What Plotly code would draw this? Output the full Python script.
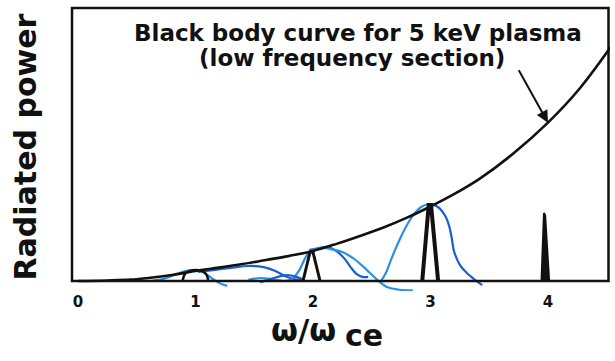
import plotly.graph_objects as go

# ---- data (power in arbitrary units, frame top = 100) ----
bb_w = [0.0, 0.25, 0.45, 0.6, 0.8, 1.0, 1.2, 1.4, 1.6, 1.8, 2.0, 2.2, 2.4, 2.6, 2.8, 3.0, 3.2, 3.42, 3.7, 4.0, 4.27, 4.6]
bb_p = [0, 0.2, 0.5, 1.1, 2.2, 3.7, 4.9, 6.2, 7.7, 9.2, 11.0, 13.6, 16.5, 19.6, 23.2, 27.3, 31.8, 37.5, 46.5, 58.0, 70.5, 89.7]

peak1_w = [0.89, 0.91, 0.95, 1.05, 1.09, 1.11]
peak1_p = [0, 2.6, 3.7, 3.7, 2.6, 0]
peak2_w = [1.915, 1.975, 2.0, 2.06]
peak2_p = [0, 10.6, 10.6, 0]
peak3_w = [2.93, 2.985, 3.005, 3.065]
peak3_p = [0, 27.8, 27.8, 0]
peak4_w = [3.945, 3.958, 3.966, 3.976, 3.99, 4.01]
peak4_p = [0, 15, 24.9, 24.0, 15, 0]

b1_w = [0.62, 0.72, 0.82, 0.9, 0.97, 1.04, 1.1, 1.16, 1.22, 1.27]
b1_p = [0, 0.7, 2.2, 3.5, 4.0, 3.8, 2.2, 0.4, -1.1, -1.8]
b2_w = [1.02, 1.15, 1.3, 1.45, 1.58, 1.68, 1.76, 1.84, 1.9]
b2_p = [3.3, 4.0, 4.8, 5.5, 5.1, 3.7, 1.8, 0.7, 0.4]
b3_w = [1.45, 1.55, 1.65, 1.75, 1.82, 1.88, 1.93, 1.97]
b3_p = [0.4, 1.1, 0.7, 0.0, 0.7, 3.7, 8.1, 11.0]
b9_w = [1.55, 1.62, 1.7, 1.78, 1.86, 1.92]
b9_p = [-0.4, 0.4, 1.5, 2.2, 1.5, 0.4]
b5_w = [1.97, 2.05, 2.12, 2.2, 2.27, 2.32, 2.37, 2.42, 2.47]
b5_p = [11.4, 12.1, 12.5, 11.0, 8.1, 5.1, 2.6, 1.5, 1.5]
b6_w = [2.0, 2.08, 2.15, 2.25, 2.35, 2.45, 2.54, 2.63, 2.72, 2.8, 2.85]
b6_p = [11.4, 12.1, 11.7, 10.6, 8.1, 4.4, 0.7, -2.2, -3.1, -3.4, -3.4]
b7_w = [2.58, 2.62, 2.68, 2.74, 2.8, 2.86, 2.92, 2.98]
b7_p = [0, 2.9, 9.5, 15.4, 20.5, 24.5, 27.1, 28.2]
b8_w = [3.02, 3.08, 3.13, 3.16, 3.18, 3.2, 3.25, 3.31, 3.37, 3.44]
b8_p = [28.2, 26.5, 23.5, 20.0, 16.0, 11.0, 5.9, 2.9, 0.7, -1.5]

tick_vals = [0, 1, 2, 3, 4]
tick_text = ["0", "1", "2", "3", "4"]

DARK = "#1a5fd0"
LIGHT = "#2b90e3"
FONT = "DejaVu Sans"

fig = go.Figure()

blue = [(b1_w, b1_p, LIGHT), (b2_w, b2_p, DARK), (b3_w, b3_p, LIGHT), (b9_w, b9_p, DARK),
        (b5_w, b5_p, DARK), (b6_w, b6_p, LIGHT), (b7_w, b7_p, LIGHT), (b8_w, b8_p, DARK)]
for w, p, c in blue:
    fig.add_trace(go.Scatter(x=w, y=p, mode="lines",
                             line=dict(color=c, width=2.2, shape="spline", smoothing=0.8),
                             hoverinfo="skip", showlegend=False))

fig.add_trace(go.Scatter(x=bb_w, y=bb_p, mode="lines", line=dict(color="#111", width=2.6, shape="spline"),
                         showlegend=False))
fig.add_trace(go.Scatter(x=peak1_w, y=peak1_p, mode="lines", line=dict(color="#111", width=2.5, shape="spline"),
                         showlegend=False))
fig.add_trace(go.Scatter(x=peak2_w, y=peak2_p, mode="lines", line=dict(color="#111", width=3),
                         showlegend=False))
fig.add_trace(go.Scatter(x=peak3_w, y=peak3_p, mode="lines", line=dict(color="#111", width=4),
                         showlegend=False))
fig.add_trace(go.Scatter(x=peak4_w, y=peak4_p, mode="lines", fill="toself", fillcolor="#111",
                         line=dict(color="#111", width=2), showlegend=False))

L, R, T, B = 72, 5, 8, 70
W, H = 615, 361
PW, PH = W - L - R, H - T - B


def px(x):
    return (x - L) / PW


def py(y):
    return (H - B - y) / PH


# frame (axis box): bottom edge sits at power = 0 (pixel row 281)
fig.add_shape(type="rect", xref="paper", x0=0, x1=px(608.5), yref="paper", y0=py(281), y1=1,
              line=dict(color="#111", width=2.5), layer="above")

ann = [
    dict(text="Black body curve for 5 keV plasma", x=px(358), y=py(33), size=23),
    dict(text="(low frequency section)", x=px(352), y=py(58), size=23),
    dict(text="Radiated power", x=px(25), y=py(147.5), size=30, textangle=-90),
    dict(text="ω/ω", x=px(303), y=py(330), size=31),
    dict(text="ce", x=px(364), y=py(335), size=30),
]
for a in ann:
    fig.add_annotation(text=a["text"], xref="paper", yref="paper", x=a["x"], y=a["y"],
                       xanchor="center", yanchor="middle", showarrow=False,
                       textangle=a.get("textangle", 0),
                       font=dict(family=FONT, size=a["size"], color="#111", weight="bold"))

fig.add_annotation(x=4.0, y=58.0, xref="x", yref="y", ax=-30, ay=-54, text="",
                   showarrow=True, arrowhead=2, arrowsize=1.2, arrowwidth=2,
                   arrowcolor="#111", standoff=0)

fig.update_xaxes(range=[-0.051, 4.528], tickvals=tick_vals, ticktext=tick_text,
                 showgrid=False, zeroline=False, showline=False, ticks="",
                 tickfont=dict(family=FONT, size=15, color="#111", weight="bold"))
fig.update_yaxes(range=[-3.66, 100], showgrid=False, zeroline=False, showline=False,
                 showticklabels=False, ticks="")
fig.update_layout(width=W, height=H, margin=dict(l=L, r=R, t=T, b=B),
                  plot_bgcolor="white", paper_bgcolor="white", showlegend=False)

fig.write_html("out.html")
